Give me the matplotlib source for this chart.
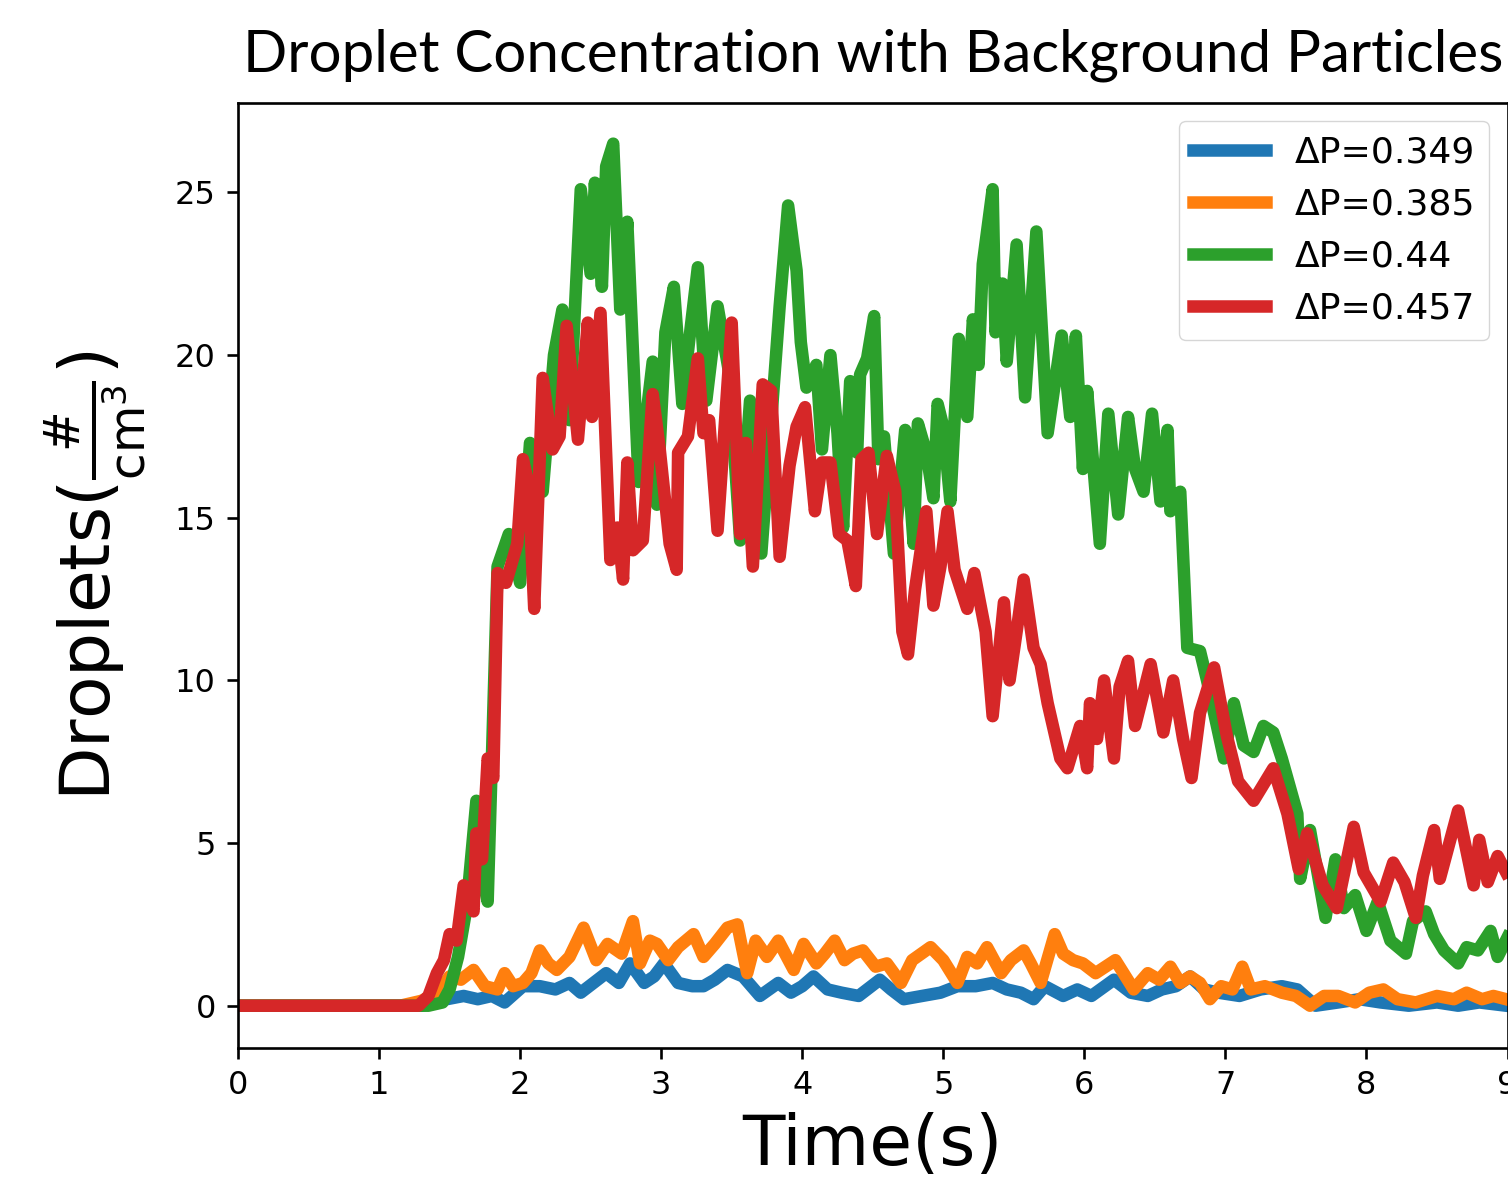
import matplotlib
matplotlib.use("Agg")
import matplotlib.pyplot as plt

# ---- data ----
labels = ["ΔP=0.349", "ΔP=0.385", "ΔP=0.44", "ΔP=0.457"]

blue_t = [0, 1.30, 1.40, 1.48, 1.60, 1.70, 1.80, 1.89, 2.02, 2.14,
          2.25, 2.35, 2.43, 2.52, 2.61, 2.70, 2.78, 2.88, 2.95, 3.02,
          3.12, 3.22, 3.30, 3.38, 3.47, 3.58, 3.70, 3.83, 3.92, 4.00,
          4.08, 4.18, 4.28, 4.40, 4.55, 4.63, 4.72, 4.85, 4.98, 5.10,
          5.23, 5.35, 5.45, 5.55, 5.64, 5.72, 5.85, 5.95, 6.05, 6.21,
          6.33, 6.45, 6.55, 6.65, 6.75, 6.85, 6.95, 7.10, 7.25, 7.40,
          7.51, 7.64, 7.80, 7.95, 8.10, 8.30, 8.50, 8.65, 8.80, 8.99]
blue_v = [0, 0, 0.1, 0.2, 0.3, 0.2, 0.3, 0.1, 0.6, 0.6,
          0.5, 0.7, 0.4, 0.7, 1.0, 0.7, 1.3, 0.7, 0.9, 1.3,
          0.7, 0.6, 0.6, 0.8, 1.1, 0.9, 0.3, 0.7, 0.4, 0.6,
          0.9, 0.5, 0.4, 0.3, 0.8, 0.5, 0.2, 0.3, 0.4, 0.6,
          0.6, 0.7, 0.5, 0.4, 0.2, 0.6, 0.3, 0.5, 0.3, 0.8,
          0.4, 0.3, 0.5, 0.6, 0.9, 0.5, 0.4, 0.3, 0.5, 0.6,
          0.5, 0.0, 0.1, 0.2, 0.1, 0.0, 0.1, 0.0, 0.1, 0.0]

orange_t = [0, 1.15, 1.30, 1.42, 1.50, 1.58, 1.67, 1.75, 1.84, 1.89,
            1.95, 2.02, 2.08, 2.14, 2.20, 2.26, 2.35, 2.45, 2.54, 2.62,
            2.72, 2.80, 2.85, 2.92, 2.97, 3.05, 3.12, 3.23, 3.30, 3.38,
            3.47, 3.54, 3.61, 3.67, 3.75, 3.83, 3.94, 4.01, 4.10, 4.16,
            4.23, 4.30, 4.36, 4.43, 4.52, 4.60, 4.70, 4.78, 4.91, 5.00,
            5.10, 5.17, 5.24, 5.31, 5.41, 5.48, 5.57, 5.62, 5.69, 5.79,
            5.85, 5.92, 5.99, 6.08, 6.15, 6.22, 6.35, 6.45, 6.53, 6.61,
            6.68, 6.75, 6.82, 6.89, 6.97, 7.05, 7.12, 7.18, 7.28, 7.40,
            7.50, 7.60, 7.70, 7.80, 7.92, 8.02, 8.12, 8.22, 8.35, 8.50,
            8.62, 8.71, 8.82, 8.90, 8.99]
orange_v = [0, 0, 0.15, 0.4, 0.9, 0.8, 1.1, 0.6, 0.5, 1.0,
            0.6, 0.7, 1.0, 1.7, 1.3, 1.1, 1.5, 2.4, 1.4, 1.9,
            1.6, 2.6, 1.3, 2.0, 1.9, 1.4, 1.8, 2.2, 1.5, 1.9,
            2.4, 2.5, 1.0, 2.0, 1.5, 2.0, 1.1, 1.9, 1.3, 1.6,
            2.0, 1.4, 1.6, 1.7, 1.2, 1.3, 0.7, 1.4, 1.8, 1.4,
            0.7, 1.5, 1.3, 1.8, 1.0, 1.4, 1.7, 1.3, 0.7, 2.2,
            1.6, 1.4, 1.3, 1.0, 1.2, 1.4, 0.5, 1.0, 0.8, 1.2,
            0.7, 0.9, 0.7, 0.2, 0.6, 0.5, 1.2, 0.5, 0.6, 0.4,
            0.3, 0.0, 0.3, 0.3, 0.1, 0.4, 0.5, 0.2, 0.1, 0.3,
            0.2, 0.4, 0.2, 0.3, 0.2]

green_t = [0, 1.35, 1.45, 1.50, 1.56, 1.62, 1.69, 1.73, 1.77, 1.84,
           1.92, 2.00, 2.07, 2.16, 2.24, 2.30, 2.35, 2.43, 2.50, 2.53,
           2.58, 2.61, 2.66, 2.71, 2.76, 2.84, 2.94, 2.97, 3.03, 3.09,
           3.15, 3.20, 3.26, 3.32, 3.40, 3.48, 3.56, 3.63, 3.71, 3.84,
           3.90, 3.96, 3.99, 4.03, 4.10, 4.14, 4.20, 4.25, 4.29, 4.34,
           4.39, 4.41, 4.46, 4.51, 4.54, 4.58, 4.65, 4.73, 4.79, 4.82,
           4.88, 4.93, 4.96, 5.00, 5.05, 5.11, 5.17, 5.21, 5.25, 5.28,
           5.35, 5.37, 5.42, 5.45, 5.52, 5.58, 5.66, 5.74, 5.84, 5.90,
           5.94, 5.99, 6.02, 6.11, 6.17, 6.24, 6.31, 6.36, 6.42, 6.48,
           6.54, 6.59, 6.61, 6.68, 6.73, 6.82, 6.87, 6.99, 7.06, 7.13,
           7.20, 7.27, 7.34, 7.40, 7.51, 7.53, 7.60, 7.71, 7.78, 7.84,
           7.92, 8.00, 8.08, 8.17, 8.28, 8.33, 8.42, 8.48, 8.55, 8.65,
           8.71, 8.79, 8.88, 8.93, 9.0]
green_v = [0, 0, 0.1, 0.5, 1.5, 3.0, 6.3, 4.0, 3.2, 13.5,
           14.5, 13.0, 17.3, 15.8, 20.0, 21.4, 18.0, 25.1, 22.5, 25.3,
           22.1, 25.8, 26.5, 21.4, 24.1, 16.1, 19.8, 15.4, 20.7, 22.1,
           18.5, 20.5, 22.7, 18.6, 21.5, 19.5, 14.3, 18.6, 13.9, 21.5,
           24.6, 22.6, 20.4, 19.0, 19.7, 17.1, 20.0, 17.6, 14.7, 19.2,
           17.0, 19.4, 19.9, 21.2, 16.8, 17.5, 13.9, 17.7, 14.2, 17.9,
           17.0, 15.6, 18.5, 17.8, 15.5, 20.5, 18.1, 21.1, 19.7, 22.8,
           25.1, 20.7, 22.2, 19.8, 23.4, 18.7, 23.8, 17.6, 20.6, 18.1,
           20.6, 16.5, 18.9, 14.2, 18.2, 15.1, 18.1, 16.5, 15.8, 18.2,
           15.5, 17.7, 15.2, 15.8, 11.0, 10.9, 10.0, 7.6, 9.3, 8.0,
           7.8, 8.6, 8.4, 7.6, 5.9, 3.9, 5.4, 2.7, 4.5, 3.0,
           3.4, 2.3, 3.2, 2.0, 1.6, 2.6, 2.9, 2.2, 1.7, 1.3,
           1.8, 1.7, 2.3, 1.5, 2.1]

red_t = [0, 1.28, 1.35, 1.41, 1.46, 1.50, 1.55, 1.60, 1.67, 1.69,
         1.73, 1.77, 1.81, 1.84, 1.90, 1.98, 2.02, 2.06, 2.10, 2.16,
         2.23, 2.28, 2.33, 2.41, 2.48, 2.51, 2.57, 2.64, 2.69, 2.73,
         2.76, 2.80, 2.87, 2.94, 2.99, 3.06, 3.11, 3.12, 3.19, 3.26,
         3.30, 3.34, 3.40, 3.50, 3.56, 3.60, 3.65, 3.72, 3.78, 3.84,
         3.91, 3.96, 4.02, 4.09, 4.14, 4.20, 4.26, 4.32, 4.38, 4.42,
         4.47, 4.53, 4.60, 4.66, 4.71, 4.75, 4.80, 4.88, 4.93, 4.98,
         5.03, 5.08, 5.17, 5.22, 5.30, 5.35, 5.43, 5.47, 5.52, 5.57, 5.64,
         5.69, 5.74, 5.83, 5.88, 5.97, 6.02, 6.04, 6.09, 6.14, 6.21,
         6.25, 6.31, 6.36, 6.47, 6.56, 6.63, 6.70, 6.76, 6.82, 6.92,
         7.01, 7.09, 7.20, 7.34, 7.44, 7.52, 7.58, 7.69, 7.79, 7.91,
         7.98, 8.10, 8.19, 8.27, 8.35, 8.40, 8.48, 8.52, 8.65, 8.76,
         8.80, 8.86, 8.93, 8.99]
red_v = [0, 0, 0.3, 1.0, 1.4, 2.2, 2.0, 3.7, 2.9, 5.3,
         4.5, 7.6, 7.0, 13.3, 13.0, 14.2, 16.8, 16.0, 12.2, 19.3,
         17.1, 17.5, 20.9, 17.4, 21.0, 18.1, 21.3, 13.7, 14.7, 13.1,
         16.7, 14.0, 14.3, 18.8, 17.1, 14.2, 13.4, 17.0, 17.5, 19.9,
         17.6, 18.0, 14.6, 21.0, 14.5, 17.3, 13.5, 19.1, 18.9, 13.8,
         16.6, 17.8, 18.4, 15.2, 16.7, 16.7, 14.5, 14.3, 12.9, 16.8,
         17.0, 14.5, 16.9, 15.8, 11.5, 10.8, 12.8, 15.2, 12.3, 13.5,
         15.2, 13.4, 12.2, 13.3, 11.5, 8.9, 12.4, 10.0, 11.5, 13.1, 11.0,
         10.5, 9.3, 7.6, 7.3, 8.6, 7.3, 9.3, 8.2, 10.0, 7.6,
         9.8, 10.6, 8.6, 10.5, 8.4, 10.0, 8.2, 7.0, 9.0, 10.4,
         8.3, 6.9, 6.3, 7.3, 5.9, 4.2, 5.3, 3.7, 3.0, 5.5,
         4.1, 3.2, 4.4, 3.8, 2.7, 4.0, 5.4, 3.9, 6.0, 3.7,
         5.1, 3.8, 4.6, 4.1]

colors = ["#1f77b4", "#ff7f0e", "#2ca02c", "#d62728"]
series = [(blue_t, blue_v), (orange_t, orange_v), (green_t, green_v), (red_t, red_v)]

W, H = 1508, 1194
fig = plt.figure(figsize=(W / 100, H / 100), dpi=100)
ax = fig.add_axes([238 / W, 1 - 1048 / H, (1507.5 - 238) / W, (1048 - 103) / H])

for (t, v), c, lab in zip(series, colors, labels):
    ax.plot(t, v, color=c, lw=9, label=lab)

ax.set_xlim(0, 9)
ax.set_ylim(-1.3, 27.75)
ax.set_xticks(range(0, 10))
ax.set_yticks([0, 5, 10, 15, 20, 25])
ax.tick_params(labelsize=23, length=8, width=1.9, pad=8)
for s in ax.spines.values():
    s.set_linewidth(1.9)

ax.set_xlabel("Time(s)", fontsize=50)
ax.xaxis.set_label_coords(0.5, (1048 - 1112) / 945)
ax.set_ylabel(r"Droplets($\frac{\#}{\mathrm{cm}^3}$)", fontsize=50)
ax.yaxis.set_label_coords((150 - 238) / 1269.5, 0.5)

ax.legend(loc="upper right", fontsize=26)

# title placed like the slide text, stretched to span the same width
title = fig.text(243 / W, 1 - 72 / H, "Droplet Concentration with Background Particles",
                 family="Lato", fontsize=40, ha="left", va="baseline")
fig.canvas.draw()
bb = title.get_window_extent()
title.set_fontsize(40 * (1503 - 243) / bb.width)

fig.savefig("out.png", dpi=100)
